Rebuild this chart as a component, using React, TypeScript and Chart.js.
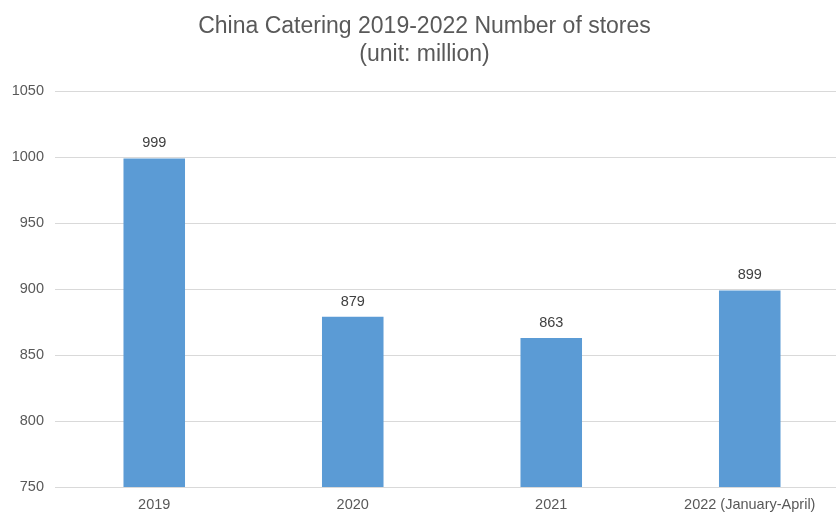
import React, { useEffect, useRef } from "react";
import { Chart, registerables } from "chart.js";

Chart.register(...registerables);

const categories = ["2019", "2020", "2021", "2022 (January-April)"];
const storeCounts = [999, 879, 863, 899];
const titleLines = ["China Catering 2019-2022 Number of stores", "(unit: million)"];
const yMin = 750;
const yMax = 1050;
const yStep = 50;

const FONT = "'Liberation Sans', Arial, sans-serif";

const valueLabelPlugin = {
  id: "valueLabels",
  afterDatasetsDraw(chart: any) {
    const ctx = chart.ctx;
    const meta = chart.getDatasetMeta(0);
    const data = chart.data.datasets[0].data;
    ctx.save();
    ctx.font = "14.5px " + FONT;
    ctx.fillStyle = "#404040";
    ctx.textAlign = "center";
    ctx.textBaseline = "alphabetic";
    meta.data.forEach((bar: any, i: number) => {
      ctx.fillText(String(data[i]), bar.x, bar.y - 11);
    });
    ctx.restore();
  },
};

export default function App() {
  const ref = useRef<HTMLCanvasElement | null>(null);
  useEffect(() => {
    if (!ref.current) return;
    const chart = new Chart(ref.current, {
      type: "bar",
      data: {
        labels: categories,
        datasets: [
          {
            data: storeCounts,
            backgroundColor: "#5B9BD5",
            borderWidth: 0,
            categoryPercentage: 1,
            barPercentage: 0.31,
          },
        ],
      },
      options: {
        responsive: false,
        animation: false,
        layout: { padding: { top: 13, left: 0, right: 1, bottom: 0 } },
        plugins: {
          legend: { display: false },
          tooltip: { enabled: false },
          title: {
            display: true,
            text: titleLines,
            color: "#595959",
            font: { size: 23, family: FONT, weight: "normal", lineHeight: 1.22 },
            padding: { top: 0, bottom: 22 },
          },
        },
        scales: {
          x: {
            grid: { display: false, drawTicks: false },
            border: { display: false },
            ticks: {
              color: "#595959",
              font: { size: 14.5, family: FONT },
              padding: 9,
              maxRotation: 0,
            },
            afterFit(axis: any) {
              axis.height = 29;
            },
          },
          y: {
            min: yMin,
            max: yMax,
            grid: { color: "#d9d9d9", lineWidth: 1, drawTicks: false },
            border: { display: false },
            ticks: {
              stepSize: yStep,
              color: "#595959",
              font: { size: 14.5, family: FONT },
              padding: 11,
              callback: (v: any) => String(v),
            },
            afterFit(axis: any) {
              axis.width = 55;
            },
          },
        },
      },
      plugins: [valueLabelPlugin],
    });
    return () => chart.destroy();
  }, []);
  return (
    <div style={{ position: "fixed", left: 0, top: 0, width: 836, height: 516, overflow: "hidden", background: "#fff" }}>
      <canvas ref={ref} width={850} height={516} style={{ display: "block" }} />
    </div>
  );
}
